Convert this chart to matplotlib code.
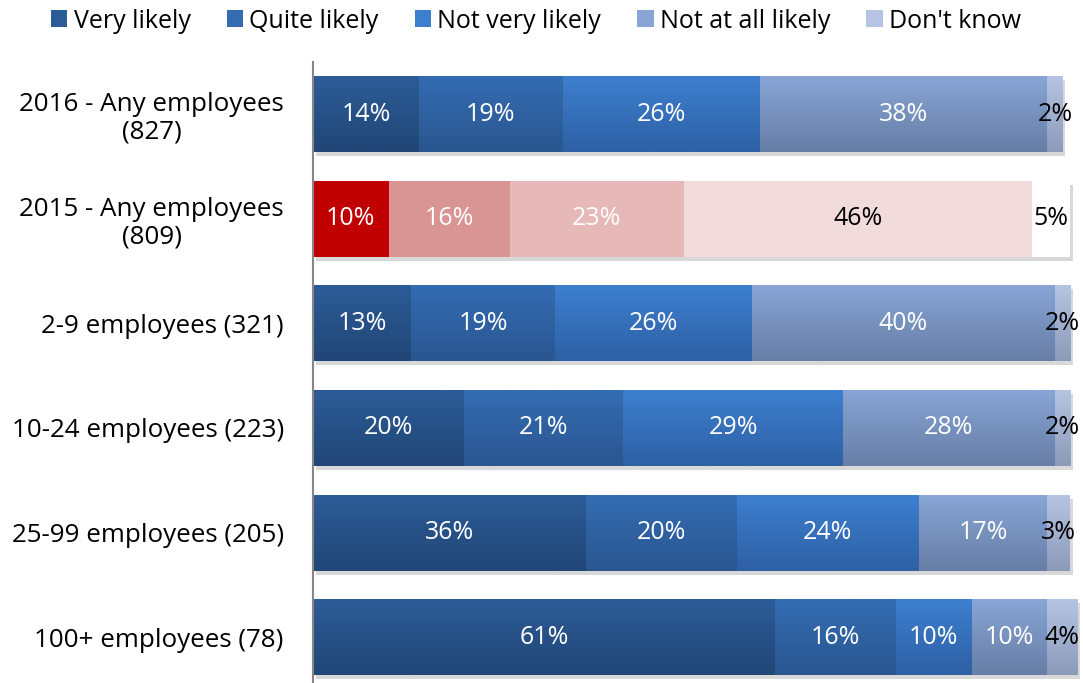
import numpy as np
import matplotlib
matplotlib.use("Agg")
import matplotlib.pyplot as plt
from matplotlib.colors import LinearSegmentedColormap
from matplotlib.patches import Patch
import matplotlib.patheffects as pe

plt.rcParams['font.family'] = ['Open Sans', 'DejaVu Sans']

categories = ["2016 - Any employees\n(827)", "2015 - Any employees\n(809)",
              "2-9 employees (321)", "10-24 employees (223)",
              "25-99 employees (205)", "100+ employees (78)"]
series_names = ["Very likely", "Quite likely", "Not very likely",
                "Not at all likely", "Don't know"]
very_likely = [14, 10, 13, 20, 36, 61]
quite_likely = [19, 16, 19, 21, 20, 16]
not_very_likely = [26, 23, 26, 29, 24, 10]
not_at_all_likely = [38, 46, 40, 28, 17, 10]
dont_know = [2, 5, 2, 2, 3, 4]
values = [very_likely, quite_likely, not_very_likely, not_at_all_likely, dont_know]

# gradient colours (top, bottom) for blue series
blue_grad = [("#2c5c97", "#214676"), ("#346cb2", "#2a5690"),
             ("#3d7fcf", "#2e60a4"), ("#88a5d5", "#677ea6"),
             ("#b4c4e2", "#8c9bb9")]
red_cols = ["#c00000", "#d99594", "#e6b8b7", "#f2dcdb", "#ffffff"]
blue_text = ["white", "white", "white", "white", "black"]
red_text = ["white", "white", "white", "black", "black"]

W, H = 1083, 683
fig = plt.figure(figsize=(W / 100, H / 100), dpi=100)
ax = fig.add_axes([313 / W, 1 - 689.5 / H, 1 - 313 / W, (689.5 - 61.7) / H])

n = len(categories)
ypos = np.arange(n)[::-1]
bh = 0.726
left = np.zeros(n)
for s, vals in enumerate(values):
    vals = np.array(vals, dtype=float)
    fcs = [red_cols[s] if i == 1 else blue_grad[s][0] for i in range(n)]
    bars = ax.barh(ypos, vals, left=left, height=bh, color=fcs, linewidth=0,
                   zorder=2,
                   path_effects=[pe.SimplePatchShadow(offset=(2, -3), shadow_rgbFace='#808080', alpha=0.3),
                                 pe.Normal()])
    for i, rect in enumerate(bars):
        x0 = rect.get_x()
        x1 = x0 + rect.get_width()
        y0 = rect.get_y()
        y1 = y0 + rect.get_height()
        if i != 1:
            cmap = LinearSegmentedColormap.from_list("g", [blue_grad[s][0], blue_grad[s][1]])
            grad = np.linspace(0, 1, 64).reshape(-1, 1)
            im = ax.imshow(grad, cmap=cmap, extent=(x0, x1, y0, y1), origin='upper',
                           aspect='auto', interpolation='bilinear', zorder=3)
            im.set_clip_path(rect)
        tc = red_text[s] if i == 1 else blue_text[s]
        ax.text((x0 + x1) / 2, ypos[i], f"{int(vals[i])}%", ha='center', va='center',
                color=tc, fontsize=18, zorder=5)
    left += vals

ax.set_xlim(0, (W - 313) / 7.57)
ax.set_ylim(-0.5, n - 0.5)
ax.set_yticks(ypos)
ax.set_yticklabels(categories, fontsize=18.7, multialignment='center', linespacing=1.15)
ax.tick_params(axis='y', length=0, pad=21)
ax.set_xticks([])
for sp in ['top', 'right', 'bottom']:
    ax.spines[sp].set_visible(False)
ax.spines['left'].set_color('#868686')
ax.spines['left'].set_linewidth(1.5)
ax.spines['left'].set_zorder(6)

handles = [Patch(facecolor=blue_grad[s][0], edgecolor='none') for s in range(5)]
fig.legend(handles, series_names, loc='center', bbox_to_anchor=(536 / W, 1 - 21 / H),
           ncol=5, frameon=False, fontsize=18, handlelength=0.65, handleheight=0.65,
           handletextpad=0.25, columnspacing=1.45)

fig.savefig("out.png", dpi=100)
